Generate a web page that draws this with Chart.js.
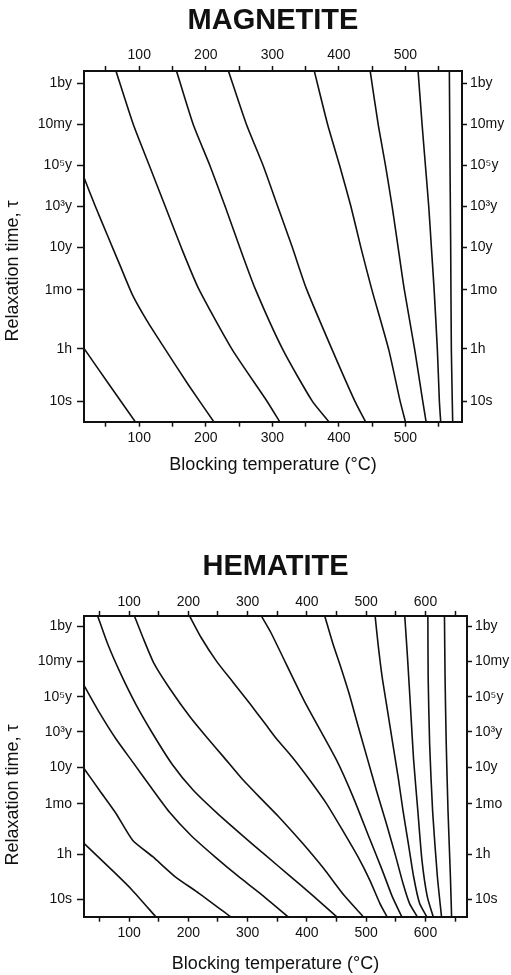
<!DOCTYPE html>
<html lang="en">
<head>
  <meta charset="UTF-8" />
  <title>Blocking temperature vs relaxation time</title>
  <style>
    body {
      margin: 0;
      background: #fff;
      overflow: hidden;
    }
    .panel {
      position: absolute;
      left: 0;
    }
    #magnetite { top: 0; }
    #hematite { top: 540px; }
  </style>
</head>
<body>
  <canvas id="magnetite" class="panel" width="511" height="478"></canvas>
  <canvas id="hematite" class="panel" width="511" height="436"></canvas>
  <script src="https://cdn.jsdelivr.net/npm/chart.js"></script>
  <script>
    // y is log10 of the relaxation time in seconds, x is blocking temperature in °C
    const yTickValues = [16.5, 14.5, 12.5, 10.5, 8.5, 6.42, 3.556, 1];
    const yTickLabels = ["1by", "10my", "10⁵y", "10³y", "10y", "1mo", "1h", "10s"];

    const magnetiteTicks = [50, 100, 150, 200, 250, 300, 350, 400, 450, 500, 550];
    const hematiteTicks = [50, 100, 150, 200, 250, 300, 350, 400, 450, 500, 550, 600, 650];

    // magnetite curves, [temperature, log10 time]
    const mag1 = [[17, 3.57], [55, 1.8], [94, 0]];
    const mag2 = [[17, 11.9], [34, 10.5], [52, 9.1], [71, 7.63], [90, 6.17], [112, 4.9], [135, 3.73], [174, 1.79], [212, 0]];
    const mag3 = [[65, 17.1], [91, 14.5], [115, 12.5], [139, 10.5], [163, 8.5], [189, 6.5], [240, 3.5], [292, 1.0], [311, 0]];
    const mag4 = [[156, 17.1], [181, 14.5], [206, 12.5], [229, 10.5], [251, 8.5], [274, 6.5], [316, 3.5], [360, 1], [385, 0]];
    const mag5 = [[234, 17.1], [261, 14.5], [286, 12.5], [308, 10.5], [330, 8.5], [351, 6.5], [390, 3.5], [424, 1], [440, 0]];
    const mag6 = [[363, 17.1], [383, 14.5], [401, 12.5], [418, 10.5], [433, 8.5], [449, 6.5], [475, 3.5], [492, 1], [500, 0]];
    const mag7 = [[447, 17.1], [459, 14.5], [470, 12.5], [480, 10.5], [489, 8.5], [498, 6.5], [514, 3.5], [526, 1], [531, 0]];
    const mag8 = [[519, 17.1], [525, 14.5], [530, 12.5], [535, 10.5], [539, 8.5], [543, 6.5], [548, 3.5], [551, 1], [553, 0]];
    const mag9 = [[566, 17.1], [567, 12.5], [568, 8.5], [569, 3.5], [571, 0]];

    // hematite curves
    const hem1 = [[24, 4.17], [77, 2.46], [105, 1.52], [145, 0]];
    const hem2 = [[24, 8.42], [50, 7.19], [78, 5.87], [106, 4.35], [140, 3.41], [178, 2.27], [218, 1.33], [271, 0]];
    const hem3 = [[24, 13.15], [50, 11.6], [78, 10.1], [106, 8.8], [136, 7.4], [168, 5.95], [205, 4.6], [245, 3.4], [284, 2.3], [322, 1.3], [368, 0]];
    const hem4 = [[47, 17.1], [64, 15.5], [86, 13.8], [111, 12.1], [140, 10.4], [172, 8.7], [208, 7.2], [248, 5.9], [290, 4.65], [330, 3.5], [370, 2.35], [410, 1.2], [450, 0]];
    const hem5 = [[109, 17.1], [123, 15.9], [142, 14.4], [170, 12.9], [203, 11.35], [231, 10.2], [259, 9.1], [289, 7.9], [320, 6.8], [352, 5.7], [392, 4.2], [428, 2.75], [463, 1.2], [495, 0]];
    const hem6 = [[202, 17.1], [221, 15.9], [248, 14.5], [276, 13.3], [304, 12.1], [330, 10.95], [349, 10.1], [375, 9.08], [405, 7.76], [433, 6.43], [460, 4.92], [486, 3.41], [506, 2.08], [523, 0.76], [535, 0]];
    const hem7 = [[323, 17.1], [340, 16.1], [395, 12.3], [450, 8.9], [478, 6.8], [505, 4.5], [527, 2.65], [544, 1.14], [560, 0]];
    const hem8 = [[430, 17.1], [444, 15.5], [457, 14.2], [471, 12.7], [485, 11.0], [501, 9.1], [517, 7.2], [534, 5.3], [550, 3.4], [562, 1.9], [573, 0.76], [586, 0]];
    const hem9 = [[515, 17.1], [520, 15.5], [527, 13.6], [536, 11.7], [545, 9.8], [554, 7.9], [562, 6.05], [571, 4.17], [580, 2.27], [590, 0.76], [602, 0]];
    const hem10 = [[565, 17.1], [570, 14.56], [575, 11.73], [580, 8.89], [587, 6.05], [594, 3.22], [603, 1.14], [613, 0]];
    const hem11 = [[604, 17.1], [604.5, 13.6], [607, 9.8], [612, 6.0], [620, 2.3], [627, 0]];
    const hem12 = [[632, 17.1], [633, 13.6], [635, 9.8], [638, 6.0], [642, 2.3], [644, 0]];

    const magnetiteCurves = [mag1, mag2, mag3, mag4, mag5, mag6, mag7, mag8, mag9];
    const hematiteCurves = [hem1, hem2, hem3, hem4, hem5, hem6, hem7, hem8, hem9, hem10, hem11, hem12];

    const ink = "#111";
    const family = '"Liberation Sans", Arial, sans-serif';
    Chart.defaults.color = ink;
    Chart.defaults.font.family = family;

    // rotated y title, drawn a bit below centre like the original
    const sideTitle = {
      id: "sideTitle",
      afterDraw(chart, args, opts) {
        const ctx = chart.ctx;
        ctx.save();
        ctx.translate(opts.x, opts.y);
        ctx.rotate(-Math.PI / 2);
        ctx.font = "18px " + family;
        ctx.fillStyle = ink;
        ctx.textAlign = "center";
        ctx.textBaseline = "middle";
        ctx.fillText(opts.text, 0, 0);
        ctx.restore();
      }
    };

    function xAxis(pos, min, max, ticks, size, pad, showTitle) {
      return {
        type: "linear",
        position: pos,
        min: min,
        max: max,
        afterBuildTicks: s => { s.ticks = ticks.map(v => ({ value: v })); },
        afterFit: s => { s.height = size; },
        ticks: {
          autoSkip: false,
          maxRotation: 0,
          padding: pad,
          font: { size: 14 },
          callback: v => (v % 100 === 0 ? String(v) : "")
        },
        grid: { drawOnChartArea: false, drawTicks: true, tickLength: 5, tickWidth: 1.5, tickColor: ink },
        border: { display: true, color: ink, width: 2 },
        title: {
          display: showTitle,
          text: "Blocking temperature (°C)",
          font: { size: 18 },
          padding: 0
        }
      };
    }

    function yAxis(pos, size, tick, pad) {
      return {
        type: "linear",
        position: pos,
        min: 0,
        max: 17.1,
        afterBuildTicks: s => { s.ticks = yTickValues.map(v => ({ value: v })); },
        afterFit: s => { s.width = size; },
        ticks: {
          autoSkip: false,
          padding: pad,
          font: { size: 14 },
          callback: (v, i) => yTickLabels[i]
        },
        grid: { drawOnChartArea: false, drawTicks: true, tickLength: tick, tickWidth: 1.5, tickColor: ink },
        border: { display: true, color: ink, width: 2 }
      };
    }

    function makeChart(id, cfg) {
      new Chart(document.getElementById(id), {
        type: "scatter",
        data: {
          datasets: cfg.curves.map(c => ({
            data: c.map(p => ({ x: p[0], y: p[1] })),
            showLine: true,
            borderColor: ink,
            borderWidth: 1.6,
            pointRadius: 0,
            tension: 0.2
          }))
        },
        options: {
          responsive: false,
          animation: false,
          devicePixelRatio: 1,
          layout: { padding: { top: 0, left: 2, right: 0, bottom: cfg.padBottom } },
          scales: {
            x: xAxis("bottom", cfg.xMin, cfg.xMax, cfg.xTicks, cfg.bottomH, cfg.bottomPad, true),
            x2: xAxis("top", cfg.xMin, cfg.xMax, cfg.xTicks, cfg.topH, cfg.topPad, false),
            y: yAxis("left", 82, 7, 5),
            y2: yAxis("right", cfg.rightW, 5, 3)
          },
          plugins: {
            legend: { display: false },
            tooltip: { enabled: false },
            title: {
              display: true,
              text: cfg.title,
              fullSize: false,
              font: { size: 29, weight: "bold" },
              padding: { top: cfg.titleTop, bottom: 0 }
            },
            sideTitle: { text: "Relaxation time, τ", x: 13, y: cfg.sideY }
          }
        },
        plugins: [sideTitle]
      });
    }

    makeChart("magnetite", {
      title: "MAGNETITE",
      curves: magnetiteCurves,
      xMin: 17, xMax: 585, xTicks: magnetiteTicks,
      titleTop: 3.4, topH: 32.7, topPad: 2.4,
      bottomH: 54.1, bottomPad: 3, padBottom: 2.2,
      rightW: 49, sideY: 271
    });

    makeChart("hematite", {
      title: "HEMATITE",
      curves: hematiteCurves,
      xMin: 24, xMax: 670, xTicks: hematiteTicks,
      titleTop: 9.6, topH: 31.5, topPad: 0,
      bottomH: 58.1, bottomPad: 3.4, padBottom: 1.2,
      rightW: 44, sideY: 255
    });
  </script>
</body>
</html>
